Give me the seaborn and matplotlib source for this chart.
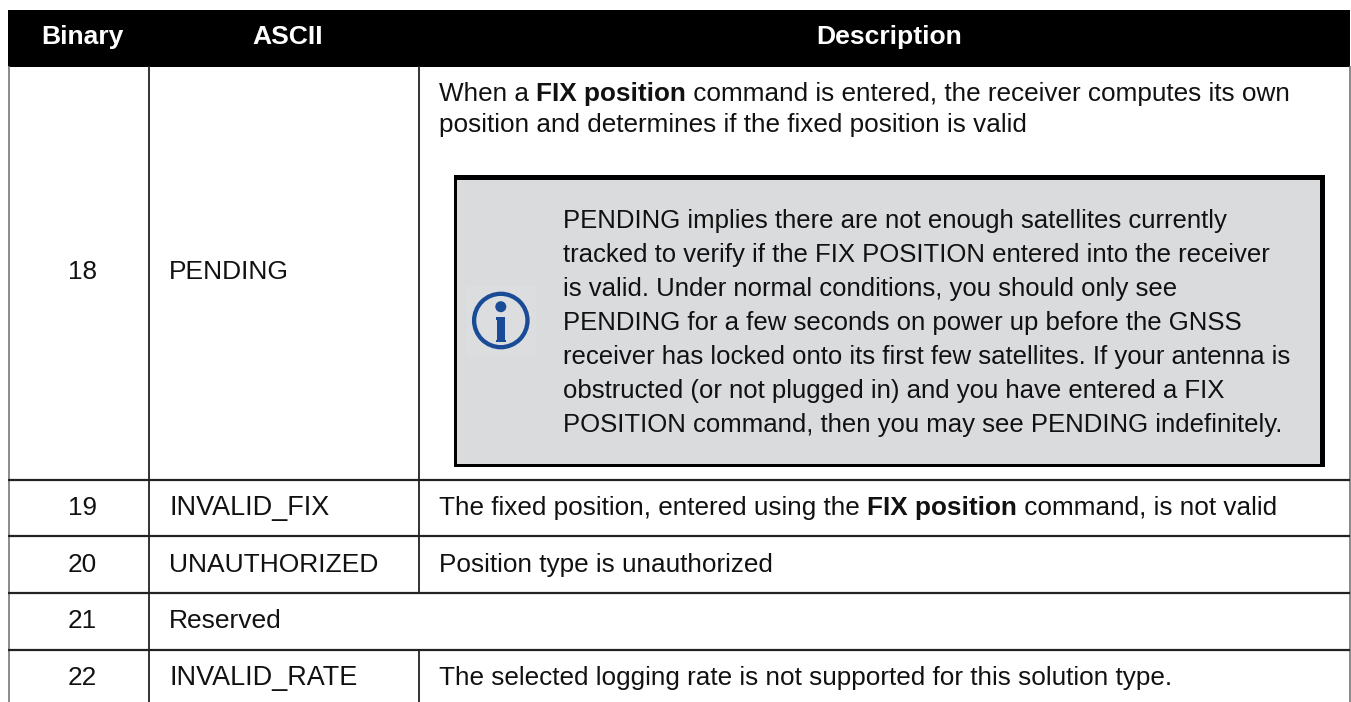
import matplotlib
matplotlib.use('Agg')
import matplotlib.pyplot as plt
from matplotlib.patches import Circle, Rectangle
import seaborn as sns

headers = ['Binary', 'ASCII', 'Description']
binary_vals = ['18', '19', '20', '21', '22']
ascii_vals = ['PENDING', 'INVALID_FIX', 'UNAUTHORIZED', 'Reserved', 'INVALID_RATE']
desc_first = [[('When a ', False), ('FIX position', True), (' command is entered, the receiver computes its own', False)],
              [('position and determines if the fixed position is valid', False)]]
desc_rows = [[('The fixed position, entered using the ', False), ('FIX position', True), (' command, is not valid', False)],
             [('Position type is unauthorized', False)],
             [],
             [('The selected logging rate is not supported for this solution type.', False)]]
note_lines = ['PENDING implies there are not enough satellites currently',
              'tracked to verify if the FIX POSITION entered into the receiver',
              'is valid. Under normal conditions, you should only see',
              'PENDING for a few seconds on power up before the GNSS',
              'receiver has locked onto its first few satellites. If your antenna is',
              'obstructed (or not plugged in) and you have entered a FIX',
              'POSITION command, then you may see PENDING indefinitely.']

sns.set_theme(style='white')
plt.rcParams['font.family'] = ['Liberation Sans', 'DejaVu Sans']

fig = plt.figure(figsize=(13.51, 7.02), dpi=100)
ax = fig.add_axes([0, 0, 1, 1])
ax.set_xlim(0, 1351)
ax.set_ylim(702, 0)
ax.axis('off')

FS = 18.85
NOTE_FS = 18.5
INK = '#111111'
LINE = '#222222'


def width(s, bold):
    # the bar keeps spaces at the end of a run in the measurement
    r = fig.canvas.get_renderer()
    w = 'bold' if bold else 'normal'
    a = ax.text(0, 0, s + '|', fontsize=FS, fontweight=w)
    b = ax.text(0, 0, '|', fontsize=FS, fontweight=w)
    d = a.get_window_extent(r).width - b.get_window_extent(r).width
    a.remove()
    b.remove()
    return d


def segs(x, y, parts):
    # bold and regular runs on one line, each starts where the last one ended
    for s, bold in parts:
        ax.text(x, y, s, fontsize=FS, color=INK, va='baseline',
                fontweight='bold' if bold else 'normal')
        x += width(s, bold)


def box(x0, y0, x1, y1, color):
    ax.add_patch(Rectangle((x0, y0), x1 - x0, y1 - y0, fc=color, ec='none'))


# header band
box(8, 10, 1350, 66.7, 'black')
for cx, h in zip([82, 288, 889], headers):
    ax.text(cx, 44, h, color='white', fontsize=FS + 0.2, fontweight='bold', ha='center', va='baseline')

# table rules
row_lines = [479.5, 536, 593, 650]
ax.vlines([8.5, 1350.3], 66, 702, color='#777777', lw=1.2)
ax.vlines(149, 66, 702, color=LINE, lw=1.3)
ax.vlines(419, 66, 593, color=LINE, lw=1.3)
ax.vlines(419, 650, 702, color=LINE, lw=1.3)
ax.hlines(row_lines, 8, 1350, color=LINE, lw=1.6)

# first two columns, the INVALID names run a bit wider in the original
mid_y = [279, 515, 572, 628, 685]
for y, b, a in zip(mid_y, binary_vals, ascii_vals):
    ax.text(82, y, b, fontsize=FS, color=INK, ha='center', va='baseline')
    ax.text(169, y, a, fontsize=19.45 if a.startswith('INVALID') else FS + 0.15, color=INK, va='baseline')

# description column
for y, parts in zip([101, 132], desc_first):
    segs(439, y, parts)
for y, parts in zip(mid_y[1:], desc_rows):
    if parts:
        segs(439, y, parts)

# note box
box(454, 174.5, 1325, 466.7, 'black')
box(456.7, 180, 1320, 464, '#dadbdd')
box(466, 286, 536, 356, '#dcdddf')
for y, s in zip([228, 262, 296, 330, 364, 398, 432], note_lines):
    ax.text(563, y, s, fontsize=NOTE_FS, color=INK, va='baseline')

# info icon
BLUE = '#1a4b96'
ax.add_patch(Circle((500.8, 320.5), 26.7, fc='none', ec=BLUE, lw=3.1))
ax.add_patch(Circle((500.8, 306.7), 5.5, fc=BLUE, ec='none'))
box(497, 317, 505.3, 341.7, BLUE)
box(495.8, 317, 497, 319.5, BLUE)
box(495.8, 340, 506.2, 341.7, BLUE)

fig.savefig('out.png', dpi=100)
